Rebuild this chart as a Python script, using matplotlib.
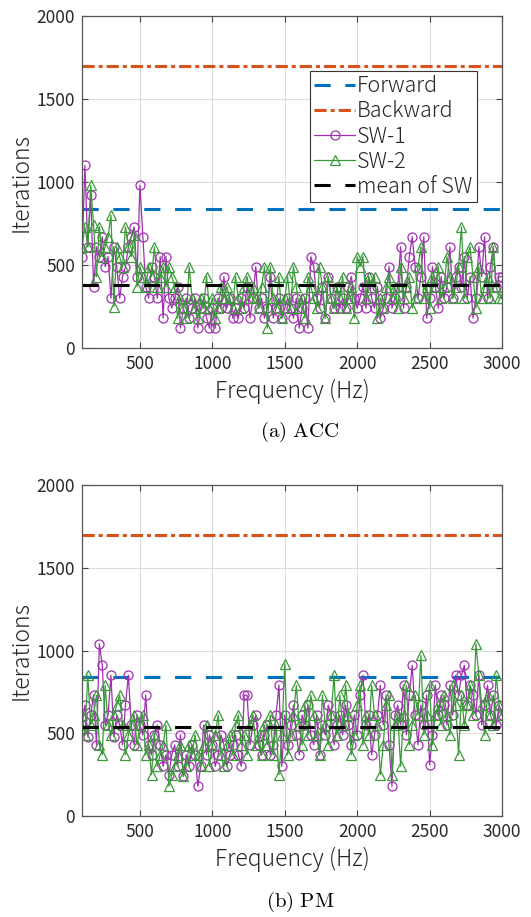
import matplotlib
matplotlib.use('Agg')
import matplotlib.pyplot as plt

plt.rcParams['font.family'] = ['Noto Sans CJK JP', 'DejaVu Sans']
plt.rcParams['mathtext.fontset'] = 'cm'

# frequency grid (Hz)
freq = list(range(100, 3001, 20))

forward = 840
backward = 1700

# (a) ACC
acc_sw1 = [550, 1100, 610, 920, 370, 610, 550, 670, 490, 550,
           300, 610, 490, 300, 430, 490, 610, 670, 730, 430,
           980, 670, 370, 300, 490, 430, 300, 550, 180, 550,
           300, 240, 300, 370, 120, 240, 300, 180, 240, 300,
           120, 240, 300, 180, 120, 240, 120, 300, 240, 430,
           240, 300, 180, 240, 180, 300, 240, 370, 180, 300,
           490, 240, 300, 180, 240, 430, 180, 240, 300, 180,
           240, 300, 240, 180, 300, 120, 240, 300, 120, 550,
           490, 300, 240, 370, 180, 430, 300, 240, 370, 240,
           300, 240, 370, 430, 300, 240, 300, 370, 240, 430,
           300, 240, 370, 180, 240, 300, 490, 240, 300, 370,
           610, 240, 370, 550, 670, 490, 300, 430, 670, 180,
           300, 490, 370, 240, 430, 300, 370, 610, 300, 430,
           490, 370, 550, 300, 430, 180, 300, 610, 430, 670,
           300, 490, 610, 370, 430, 430]
acc_sw2 = [610, 730, 610, 980, 740, 430, 730, 550, 610, 670,
           800, 250, 610, 550, 490, 730, 610, 550, 680, 370,
           490, 430, 370, 490, 430, 610, 370, 430, 490, 370,
           490, 430, 370, 180, 300, 240, 180, 490, 300, 240,
           180, 300, 240, 430, 240, 300, 180, 240, 370, 300,
           370, 300, 240, 430, 300, 240, 370, 430, 300, 370,
           300, 240, 370, 490, 120, 490, 300, 240, 430, 180,
           300, 430, 240, 490, 370, 240, 300, 180, 430, 370,
           300, 240, 490, 370, 180, 430, 300, 240, 370, 300,
           430, 240, 300, 370, 180, 550, 490, 550, 300, 430,
           370, 430, 180, 300, 240, 370, 430, 300, 370, 240,
           490, 300, 370, 430, 240, 300, 490, 610, 300, 370,
           240, 430, 370, 490, 300, 370, 550, 430, 300, 370,
           490, 730, 300, 550, 610, 430, 240, 490, 300, 370,
           430, 300, 610, 370, 300, 300]
acc_mean = 380

# (b) PM
pm_sw1 = [550, 670, 480, 610, 730, 430, 1040, 910, 550, 610,
          850, 480, 610, 550, 430, 670, 850, 550, 430, 610,
          550, 490, 730, 430, 370, 490, 550, 430, 300, 370,
          250, 370, 430, 300, 490, 240, 370, 300, 430, 370,
          180, 300, 550, 370, 490, 430, 300, 370, 490, 430,
          300, 370, 430, 490, 370, 300, 730, 730, 430, 550,
          610, 430, 370, 490, 550, 370, 430, 610, 790, 300,
          610, 430, 550, 670, 490, 370, 610, 550, 670, 490,
          430, 610, 370, 550, 490, 670, 610, 430, 550, 610,
          490, 670, 550, 430, 610, 490, 730, 850, 550, 610,
          370, 490, 610, 790, 550, 730, 430, 180, 610, 670,
          550, 790, 490, 730, 910, 610, 430, 670, 550, 730,
          310, 490, 790, 610, 730, 670, 550, 790, 610, 850,
          730, 850, 910, 670, 790, 730, 610, 850, 550, 670,
          790, 610, 730, 550, 670, 610]
pm_sw2 = [610, 490, 850, 550, 610, 730, 430, 370, 790, 550,
          490, 610, 670, 730, 550, 370, 490, 550, 610, 430,
          550, 610, 370, 430, 250, 490, 300, 370, 430, 550,
          180, 250, 300, 370, 430, 240, 300, 430, 370, 490,
          370, 300, 430, 550, 300, 430, 490, 610, 370, 300,
          430, 490, 370, 550, 610, 430, 490, 370, 550, 610,
          430, 490, 370, 550, 430, 610, 370, 550, 250, 490,
          920, 370, 490, 610, 790, 550, 430, 670, 490, 730,
          610, 490, 370, 730, 550, 430, 610, 850, 490, 730,
          550, 790, 610, 370, 490, 670, 790, 430, 610, 490,
          790, 610, 550, 250, 430, 670, 730, 250, 550, 610,
          300, 610, 790, 430, 550, 730, 610, 970, 490, 610,
          790, 430, 610, 670, 550, 730, 610, 490, 790, 670,
          370, 730, 550, 670, 790, 610, 1040, 850, 670, 490,
          730, 610, 550, 850, 670, 610]
pm_mean = 540

blue = '#0072BD'
orange = '#D95319'
purple = '#A030B0'
green = '#3A9A3A'
txt = '#262626'

fig = plt.figure(figsize=(5.31, 9.17), dpi=100)
ax1 = fig.add_axes([82 / 531, 1 - 348 / 917, 420 / 531, 332 / 917])
ax2 = fig.add_axes([82 / 531, 1 - 816 / 917, 420 / 531, 331 / 917])


def draw(ax, sw1, sw2, mean, legend):
    xs = [freq[0], freq[-1]]
    ax.plot(xs, [forward] * 2, color=blue, lw=2.2, dashes=(5.3, 4.8), label='Forward')
    ax.plot(xs, [backward] * 2, color=orange, lw=2.2, dashes=(4, 1.3, 1.3, 1.3), label='Backward')
    ax.plot(freq, sw1, color=purple, lw=0.9, marker='o', ms=6.5, mfc='none',
            mew=0.9, label='SW-1')
    ax.plot(freq, sw2, color=green, lw=0.9, marker='^', ms=7, mfc='none',
            mew=0.9, label='SW-2')
    ax.plot(xs, [mean] * 2, color='black', lw=2.2, dashes=(5.3, 4.8), label='mean of SW')

    ax.set_xlim(100, 3000)
    ax.set_ylim(0, 2000)
    ax.set_xticks([500, 1000, 1500, 2000, 2500, 3000])
    ax.set_yticks([0, 500, 1000, 1500, 2000])
    ax.grid(True, color='#DCDCDC', lw=0.8)
    ax.set_axisbelow(True)
    ax.tick_params(direction='in', length=4, width=0.8, colors='#444444',
                   labelcolor=txt, labelsize=12.5, top=True, right=True, pad=5)
    for s in ax.spines.values():
        s.set_color('#555555')
        s.set_linewidth(0.9)
    ax.set_xlabel('Frequency (Hz)', fontsize=16.5, color=txt, labelpad=4,
                  fontweight='light')
    ax.set_ylabel('Iterations', fontsize=16.5, color=txt, labelpad=2,
                  fontweight='light')

    if legend:
        leg = ax.legend(loc='upper right', bbox_to_anchor=(0.94, 0.835),
                        borderaxespad=0, fontsize=15.5, handlelength=1.9,
                        handletextpad=0.1, labelspacing=0.15, borderpad=0.2,
                        fancybox=False, framealpha=1, edgecolor='#333333',
                        prop={'size': 15.5, 'weight': 'light'})
        leg.get_frame().set_linewidth(0.8)
        for t in leg.get_texts():
            t.set_color(txt)


draw(ax1, acc_sw1, acc_sw2, acc_mean, True)
draw(ax2, pm_sw1, pm_sw2, pm_mean, False)

fig.text(300 / 531, 1 - 432 / 917, r'$\mathrm{(a)\ ACC}$', fontsize=15,
         ha='center', va='center', color='black')
fig.text(300 / 531, 1 - 902 / 917, r'$\mathrm{(b)\ PM}$', fontsize=15,
         ha='center', va='center', color='black')

fig.savefig('out.png', dpi=100)
